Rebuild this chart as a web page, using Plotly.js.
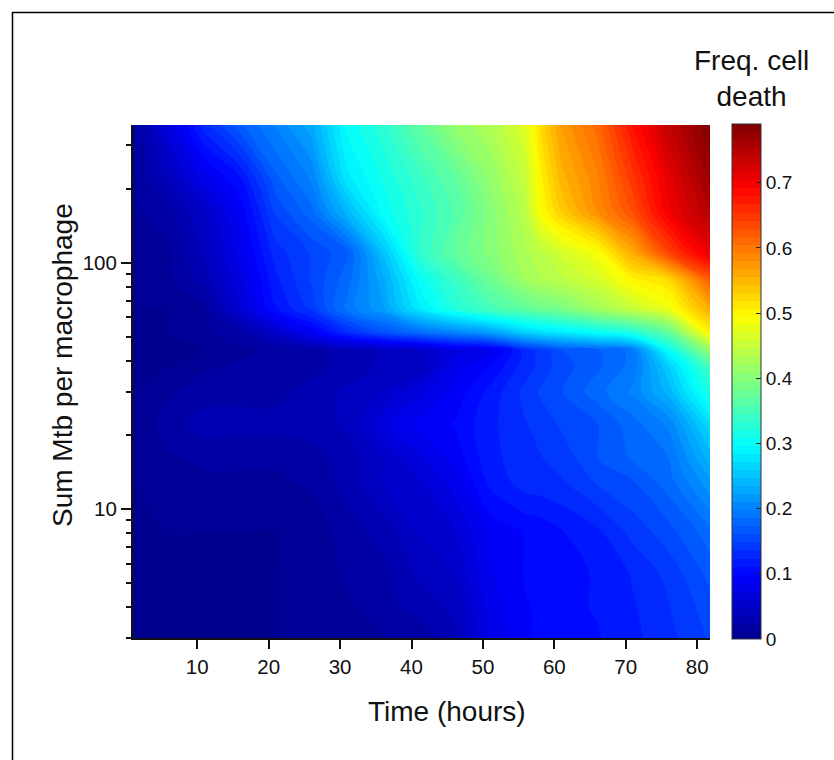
<!DOCTYPE html>
<html>
<head>
<meta charset="utf-8">
<script src="https://cdn.plot.ly/plotly-3.0.1.min.js"></script>
<style>html,body{margin:0;padding:0;background:#fff}</style>
</head>
<body>
<div id="chart" style="width:834px;height:760px"></div>
<script>
var times = [1,6,11,16,21,26,31,36,41,46,51,56,58,61,66,71,76,81.8];
var mtbLevels = [3,4,5.5,8,13,16,22,30,38,44,52,65,85,110,160,220,362];
var row3   = [0,0,0,0,0,.003,.008,.012,.015,.035,.075,.098,.1,.105,.11,.12,.132,.15];
var row4   = [0,0,0,0,0,.003,.01,.02,.03,.04,.08,.098,.1,.108,.112,.122,.135,.155];
var row5_5 = [0,0,0,0,0,.004,.015,.02,.04,.05,.085,.1,.102,.108,.112,.125,.14,.165];
var row8   = [0,0,0,0,0,.005,.018,.03,.05,.06,.09,.1,.102,.11,.12,.14,.155,.18];
var row13  = [0,.005,.01,.01,.01,.015,.03,.05,.06,.08,.115,.13,.132,.135,.15,.16,.18,.22];
var row16  = [0,.01,.015,.015,.015,.02,.03,.05,.07,.09,.12,.13,.135,.14,.16,.175,.185,.24];
var row22  = [0,.02,.03,.03,.03,.03,.04,.07,.09,.1,.12,.135,.14,.15,.16,.18,.2,.27];
var row30  = [0,.01,.02,.02,.02,.03,.04,.05,.07,.09,.115,.14,.15,.16,.18,.2,.24,.32];
var row38  = [0,0,.01,.015,.02,.02,.03,.04,.04,.08,.1,.13,.14,.155,.17,.19,.26,.35];
var row44  = [0,0,0,.01,.015,.02,.03,.04,.05,.07,.08,.13,.14,.16,.17,.19,.3,.41];
var row52  = [0,0,.01,.02,.05,.09,.13,.16,.18,.2,.22,.26,.27,.28,.3,.32,.37,.5];
var row65  = [0,0,.01,.06,.11,.14,.19,.22,.28,.32,.35,.37,.38,.39,.42,.45,.48,.56];
var row85  = [.005,.01,.03,.07,.12,.15,.18,.23,.3,.34,.38,.42,.43,.44,.46,.5,.52,.62];
var row110 = [.01,.01,.04,.08,.13,.15,.17,.25,.33,.37,.4,.43,.44,.46,.49,.56,.64,.71];
var row160 = [.01,.02,.05,.09,.15,.18,.24,.3,.33,.36,.4,.44,.49,.53,.58,.63,.7,.75];
var row220 = [.01,.04,.08,.11,.17,.2,.28,.31,.34,.37,.41,.45,.5,.55,.59,.65,.71,.77];
var row362 = [.01,.07,.13,.17,.2,.23,.3,.33,.37,.41,.43,.47,.52,.57,.61,.68,.74,.79];
var deathFreq = [row3,row4,row5_5,row8,row13,row16,row22,row30,row38,row44,row52,row65,row85,row110,row160,row220,row362];

var xTicks = [10,20,30,40,50,60,70,80];
var yTicks = [10,100];
var yMinorTicks = [3,4,5,6,7,8,9,20,30,40,50,60,70,80,90,200,300];
var barTicks = [0,0.1,0.2,0.3,0.4,0.5,0.6,0.7];
var barTickLabels = ['0','0.1','0.2','0.3','0.4','0.5','0.6','0.7'];
var jet = [[0,'#00008f'],[0.125,'#0000ff'],[0.375,'#00ffff'],[0.625,'#ffff00'],[0.875,'#ff0000'],[1,'#800000']];
var font = 'Liberation Sans, Arial, sans-serif';

var W = 834, H = 760, L = 133, T = 125, PW = 577, PH = 513;
function px(v) { return (v - L) / PW; }
function py(v) { return 1 - (v - T) / PH; }

Plotly.newPlot('chart', [{
  type: 'contour',
  x: times, y: mtbLevels, z: deathFreq,
  zmin: 0, zmax: 0.79, zauto: false,
  colorscale: jet,
  contours: {coloring: 'fill', start: 0, end: 0.79, size: 0.79/64, showlines: false},
  line: {width: 0},
  hoverinfo: 'skip',
  colorbar: {
    x: px(732), xanchor: 'left', xpad: 0,
    y: py(124), yanchor: 'top', ypad: 0,
    thickness: 29, thicknessmode: 'pixels',
    len: 515, lenmode: 'pixels',
    outlinecolor: '#333', outlinewidth: 1,
    tickmode: 'array', tickvals: barTicks, ticktext: barTickLabels,
    ticks: 'inside', ticklen: 5, tickwidth: 1, tickcolor: '#222',
    tickfont: {family: font, size: 19, color: '#111'}
  }
}], {
  width: W, height: H,
  margin: {l: L, t: T, r: W - L - PW, b: H - T - PH, pad: 0},
  paper_bgcolor: '#fff', plot_bgcolor: '#fff',
  xaxis: {
    range: [1, 81.8], tickmode: 'array', tickvals: xTicks,
    ticks: 'outside', ticklen: 9, tickwidth: 2, tickcolor: '#111',
    showgrid: false, zeroline: false, showline: true, linecolor: '#111', linewidth: 2,
    tickfont: {family: font, size: 20.5, color: '#111'}
  },
  yaxis: {
    type: 'log', range: [Math.log10(3), Math.log10(362)],
    tickmode: 'array', tickvals: yTicks, ticktext: ['10','100'],
    ticks: 'outside', ticklen: 10, tickwidth: 2, tickcolor: '#111',
    showgrid: false, zeroline: false, showline: true, linecolor: '#111', linewidth: 2,
    tickfont: {family: font, size: 20.5, color: '#111'},
    minor: {tickmode: 'array', tickvals: yMinorTicks, ticks: 'outside', ticklen: 5, tickwidth: 2, tickcolor: '#111', showgrid: false}
  },
  annotations: [{
    xref: 'paper', yref: 'paper', x: px(751.5), y: py(78),
    xanchor: 'center', yanchor: 'middle', align: 'center', showarrow: false,
    text: 'Freq. cell<br>death',
    font: {family: font, size: 28, color: '#111'}
  }, {
    xref: 'paper', yref: 'paper', x: px(447), y: py(711),
    xanchor: 'center', yanchor: 'middle', showarrow: false,
    text: 'Time (hours)',
    font: {family: font, size: 28, color: '#111'}
  }, {
    xref: 'paper', yref: 'paper', x: px(62), y: py(365),
    xanchor: 'center', yanchor: 'middle', showarrow: false, textangle: -90,
    text: 'Sum Mtb per macrophage',
    font: {family: font, size: 28, color: '#111'}
  }],
  shapes: [{
    type: 'rect', xref: 'paper', yref: 'paper', layer: 'above',
    x0: px(12.5), x1: px(W + 20),
    y0: py(H + 20), y1: py(12.5),
    line: {color: '#000', width: 1.5}
  }]
}, {displayModeBar: false, staticPlot: true});
</script>
</body>
</html>
